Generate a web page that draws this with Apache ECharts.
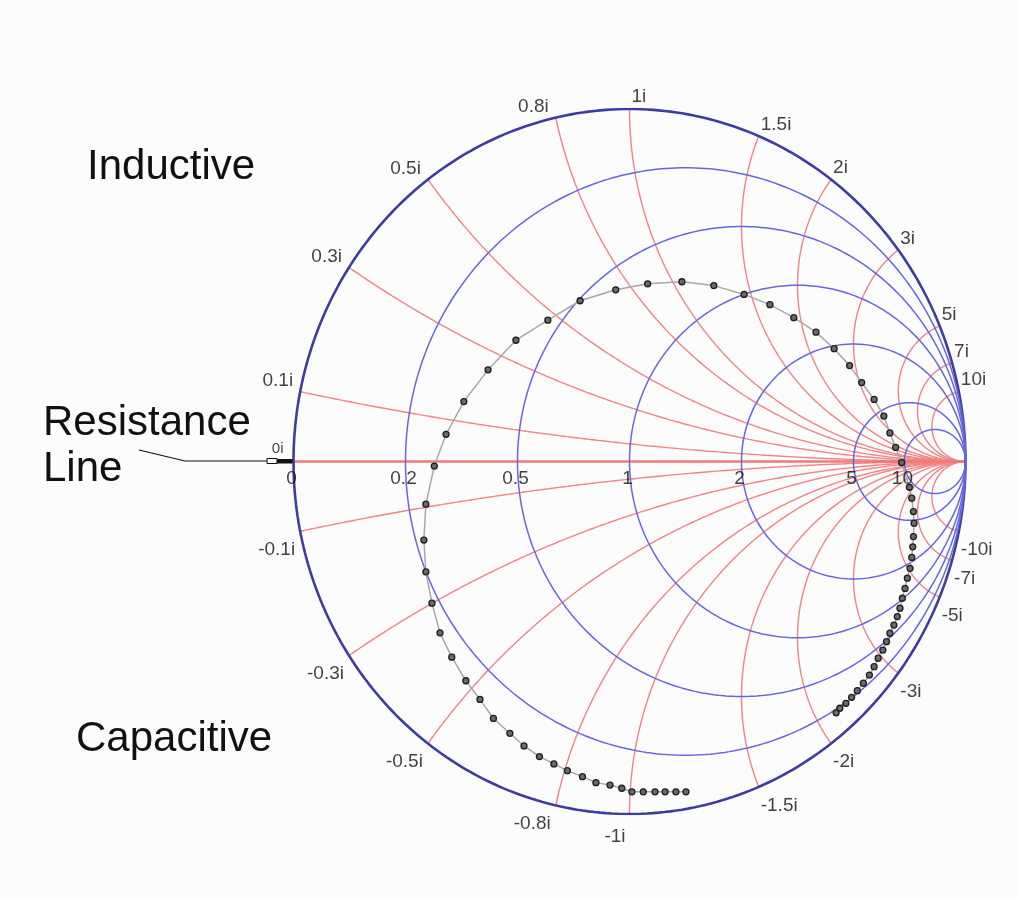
<!DOCTYPE html>
<html>
<head>
<meta charset="utf-8">
<script src="https://cdn.jsdelivr.net/npm/echarts@6/dist/echarts.min.js"></script>
<style>
html,body{margin:0;padding:0;background:#fcfcfc;}
#main{width:1018px;height:898px;}
</style>
</head>
<body>
<div id="main"></div>
<script>
// ---- chart values ----
const resistances = [0, 0.2, 0.5, 1, 2, 5, 10];
const resistanceLabels = ['0', '0.2', '0.5', '1', '2', '5', '10'];
const reactances = [0.1, 0.3, 0.5, 0.8, 1, 1.5, 2, 3, 5, 7, 10];
const reactanceLabelsPos = ['0.1i', '0.3i', '0.5i', '0.8i', '1i', '1.5i', '2i', '3i', '5i', '7i', '10i'];
const reactanceLabelsNeg = ['-0.1i', '-0.3i', '-0.5i', '-0.8i', '-1i', '-1.5i', '-2i', '-3i', '-5i', '-7i', '-10i'];
// measured trajectory, reflection-coefficient plane (real part, imaginary part)
const traceRe = [0.615, 0.626, 0.644, 0.661, 0.678, 0.696, 0.714, 0.728, 0.740, 0.754, 0.765, 0.775, 0.787, 0.797, 0.805, 0.812, 0.820, 0.827, 0.835, 0.840, 0.843, 0.845, 0.847, 0.845, 0.840, 0.833, 0.810, 0.792, 0.775, 0.757, 0.728, 0.691, 0.655, 0.609, 0.555, 0.489, 0.418, 0.341, 0.251, 0.156, 0.054, -0.041, -0.147, -0.243, -0.338, -0.421, -0.493, -0.546, -0.581, -0.606, -0.612, -0.606, -0.588, -0.564, -0.529, -0.487, -0.445, -0.405, -0.356, -0.314, -0.268, -0.225, -0.185, -0.140, -0.100, -0.058, -0.023, 0.007, 0.041, 0.076, 0.106, 0.138, 0.168];
const traceIm = [-0.713, -0.700, -0.686, -0.669, -0.650, -0.629, -0.606, -0.582, -0.558, -0.535, -0.511, -0.487, -0.464, -0.440, -0.416, -0.388, -0.360, -0.331, -0.303, -0.272, -0.242, -0.213, -0.175, -0.142, -0.104, -0.073, -0.003, 0.040, 0.081, 0.129, 0.176, 0.224, 0.272, 0.320, 0.367, 0.408, 0.445, 0.474, 0.499, 0.510, 0.504, 0.487, 0.456, 0.401, 0.344, 0.260, 0.170, 0.077, -0.013, -0.121, -0.223, -0.313, -0.402, -0.486, -0.555, -0.622, -0.675, -0.729, -0.771, -0.807, -0.837, -0.858, -0.877, -0.894, -0.911, -0.918, -0.927, -0.937, -0.937, -0.937, -0.937, -0.937, -0.937];

// ---- geometry helpers (Smith chart grid in the reflection plane) ----
function resistanceCircle(r) {
  const c = r / (1 + r), rad = 1 / (1 + r), pts = [];
  for (let i = 0; i <= 360; i++) {
    const t = i * Math.PI / 180;
    pts.push([c + rad * Math.cos(t), rad * Math.sin(t)]);
  }
  return pts;
}
function reactanceArc(x) {
  const ax = Math.abs(x), cy = 1 / ax, rad = 1 / ax;
  const px = (ax * ax - 1) / (ax * ax + 1), py = 2 * ax / (ax * ax + 1);
  let a0 = Math.atan2(py - cy, px - 1);
  if (a0 < 0) a0 += 2 * Math.PI;
  const a1 = 1.5 * Math.PI, n = 240, pts = [];
  for (let i = 0; i <= n; i++) {
    const t = a0 + (a1 - a0) * i / n;
    const u = 1 + rad * Math.cos(t), v = cy + rad * Math.sin(t);
    pts.push([u, x < 0 ? -v : v]);
  }
  return pts;
}
function edgePoint(x) {
  return [(x * x - 1) / (x * x + 1), 2 * x / (x * x + 1)];
}

const series = [];
const RED = '#ef8585';
reactances.forEach(x => {
  [x, -x].forEach(xx => {
    series.push({
      type: 'line', silent: true, showSymbol: false, animation: false,
      data: reactanceArc(xx), z: 1,
      lineStyle: { color: RED, width: 1.4 }
    });
  });
});
// real axis
series.push({
  type: 'line', silent: true, showSymbol: false, animation: false, z: 1,
  data: [[-1, 0], [1, 0]],
  lineStyle: { color: '#f07878', width: 2.6 }
});
resistances.forEach(r => {
  series.push({
    type: 'line', silent: true, showSymbol: false, animation: false, z: 2,
    data: resistanceCircle(r),
    lineStyle: r === 0 ? { color: '#3d3d9e', width: 2.6 } : { color: '#6666e0', width: 1.5 }
  });
});

// trajectory
series.push({
  type: 'line', silent: true, animation: false, z: 5,
  data: traceRe.map((u, i) => [u, traceIm[i]]),
  symbol: 'circle', symbolSize: 6, showSymbol: true,
  lineStyle: { color: '#a8a8a8', width: 1.5 },
  itemStyle: { color: '#6a6a6a', borderColor: '#1e1e1e', borderWidth: 1.3 }
});

// reactance labels
const labelFont = { fontFamily: 'Liberation Sans, Arial, sans-serif', fontSize: 19, color: '#111' };
const reactLabelData = [];
reactances.forEach((x, i) => {
  const p = edgePoint(x);
  let upper, lower;
  if (x < 1) {
    upper = { align: 'right', verticalAlign: 'bottom', offset: [-7, -1] };
    lower = { align: 'right', verticalAlign: 'top', offset: [-5, 9] };
  } else if (x === 1) {
    upper = { align: 'left', verticalAlign: 'bottom', offset: [2, -3] };
    lower = { align: 'right', verticalAlign: 'top', offset: [-4, 13] };
  } else {
    upper = { align: 'left', verticalAlign: 'bottom', offset: [2, -2] };
    lower = { align: 'left', verticalAlign: 'top', offset: [2, 9] };
  }
  reactLabelData.push({ value: [p[0], p[1]], label: Object.assign({ formatter: reactanceLabelsPos[i] }, upper) });
  reactLabelData.push({ value: [p[0], -p[1]], label: Object.assign({ formatter: reactanceLabelsNeg[i] }, lower) });
});
reactLabelData.push({ value: [-1, 0], label: { formatter: '0i', align: 'right', verticalAlign: 'bottom', offset: [-10, -5], fontSize: 15 } });
series.push({
  type: 'scatter', silent: true, animation: false, z: 6,
  symbolSize: 1, itemStyle: { color: 'rgba(0,0,0,0)' },
  label: Object.assign({ show: true, position: 'inside' }, labelFont),
  data: reactLabelData
});
// resistance labels
series.push({
  type: 'scatter', silent: true, animation: false, z: 6,
  symbolSize: 1, itemStyle: { color: 'rgba(0,0,0,0)' },
  label: Object.assign({ show: true, position: 'inside', align: 'center', verticalAlign: 'top', offset: [-2, 8] }, labelFont),
  data: resistances.map((r, i) => ({ value: [(r - 1) / (r + 1), 0], label: { formatter: resistanceLabels[i] } }))
});

const chart = echarts.init(document.getElementById('main'), null, { renderer: 'canvas' });
const bigFont = '42px "Liberation Sans", Arial, sans-serif';
chart.setOption({
  backgroundColor: '#fcfcfc',
  animation: false,
  grid: { left: 293.5, top: 109, width: 672, height: 705 },
  xAxis: { type: 'value', min: -1, max: 1, show: false },
  yAxis: { type: 'value', min: -1, max: 1, show: false },
  series: series,
  graphic: [
    { type: 'text', left: 87, top: 146, style: { text: 'Inductive', font: bigFont, fill: '#111' } },
    { type: 'text', left: 43, top: 402, style: { text: 'Resistance', font: bigFont, fill: '#111' } },
    { type: 'text', left: 43, top: 448, style: { text: 'Line', font: bigFont, fill: '#111' } },
    { type: 'text', left: 76, top: 718, style: { text: 'Capacitive', font: bigFont, fill: '#111' } },
    { type: 'polyline', shape: { points: [[139, 450], [185, 461], [267, 461]] }, style: { stroke: '#111', lineWidth: 1.2, fill: null } },
    { type: 'rect', shape: { x: 267, y: 458.5, width: 10, height: 5 }, style: { stroke: '#111', lineWidth: 1, fill: '#fff' } },
    { type: 'rect', shape: { x: 277, y: 459, width: 16, height: 4.5 }, style: { fill: '#111' } }
  ]
});
</script>
</body>
</html>
